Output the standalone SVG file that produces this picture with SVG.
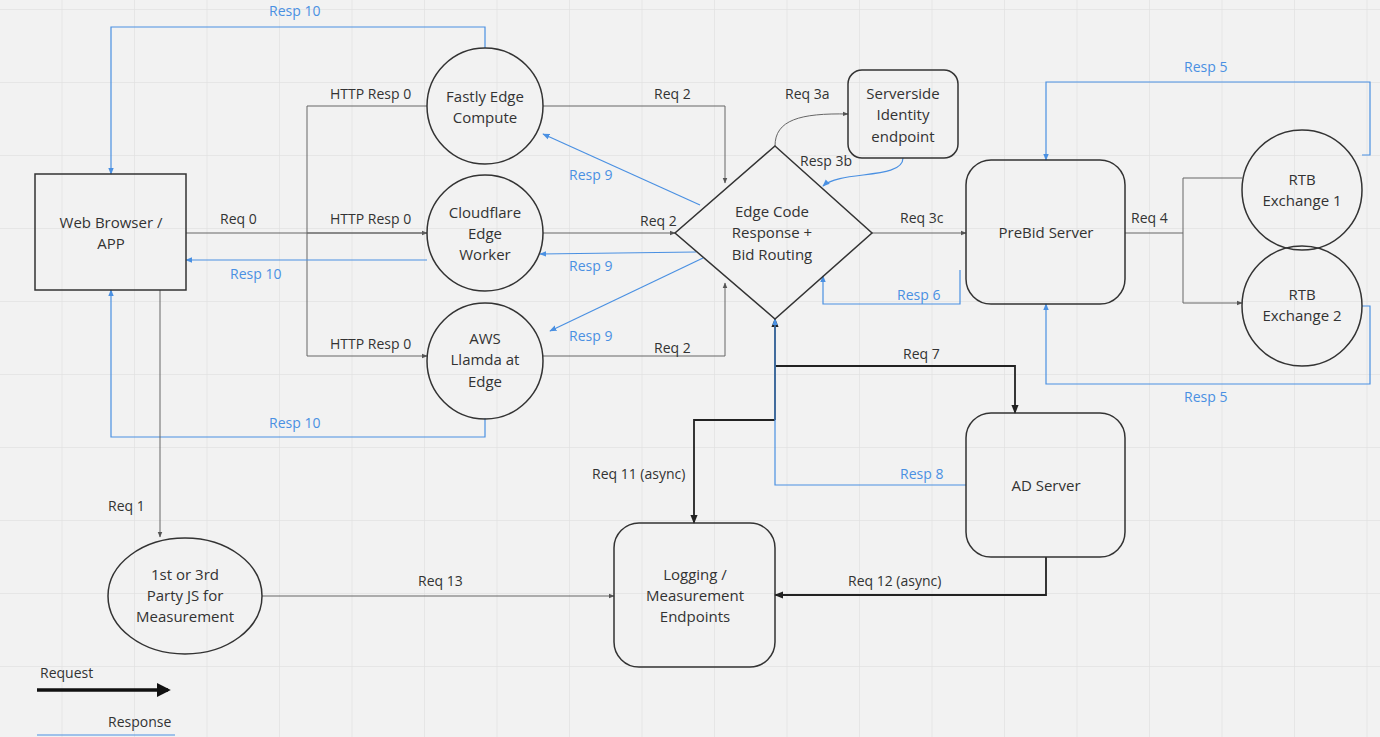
<svg xmlns="http://www.w3.org/2000/svg" width="1380" height="737" viewBox="0 0 1380 737">
<defs>
<pattern id="grid" x="-11" y="9" width="72.5" height="73" patternUnits="userSpaceOnUse"><path d="M0 0H72.5M0 0V73" fill="none" stroke="#e2e2e2" stroke-width="1.5"/></pattern>
<marker id="ag" viewBox="0 0 10 10" refX="9" refY="5" markerWidth="6" markerHeight="6" orient="auto"><path d="M0 1L10 5L0 9z" fill="#555"/></marker>
<marker id="ab" viewBox="0 0 10 10" refX="9" refY="5" markerWidth="6" markerHeight="6" orient="auto"><path d="M0 1L10 5L0 9z" fill="#4a90e2"/></marker>
<marker id="ak" viewBox="0 0 10 10" refX="9" refY="5" markerWidth="5" markerHeight="5" orient="auto"><path d="M0 1L10 5L0 9z" fill="#222"/></marker>
<marker id="aL" viewBox="0 0 10 10" refX="8" refY="5" markerWidth="4" markerHeight="4" orient="auto"><path d="M0 0L10 5L0 10z" fill="#111"/></marker>
</defs>
<style>
text{font-family:"Open Sans","Noto Sans",sans-serif;font-size:14px;fill:#333}
.n{fill:none;stroke:#333;stroke-width:1.5}
.c{text-anchor:middle;font-size:15px}
.b{fill:#4a90e2}
.g{fill:none;stroke:#666;stroke-width:1;marker-end:url(#ag)}
.bl{fill:none;stroke:#4a90e2;stroke-width:1.2;marker-end:url(#ab)}
.k{fill:none;stroke:#222;stroke-width:1.8;marker-end:url(#ak)}
</style>
<rect width="1380" height="737" fill="#f2f2f2"/>
<rect width="1380" height="737" fill="url(#grid)"/>
<g id="connectors">
<path class="g" d="M186 233H427"/>
<path class="g" d="M307 106V356M307 106H427M307 233H427M307 356H427"/>
<path class="bl" d="M485 48V27H111V174"/>
<path class="bl" d="M427 260H186"/>
<path class="bl" d="M485 418V437H111V290"/>
<path class="g" d="M543 106H725V183"/>
<path class="g" d="M543 233H675"/>
<path class="g" d="M543 356H725V283"/>
<path class="bl" d="M700 205L543 134"/>
<path class="bl" d="M696 252L540 254"/>
<path class="bl" d="M703 258L550 331"/>
<path class="g" d="M775 146C775 120 800 113 848 114"/>
<path class="bl" d="M903 158C903 180 840 170 823 186"/>
<path class="g" d="M872 233H966"/>
<path class="bl" d="M960 270V304H823V276"/>
<path class="g" d="M1125 233H1183M1183 178V303M1183 178H1242M1183 303H1242"/>
<path class="bl" d="M1362 155H1370V82H1046V160"/>
<path class="bl" d="M1362 306H1370V384H1046V304"/>
<path class="k" d="M775 420V319"/>
<path class="k" d="M775 366H1015V413"/>
<path class="k" d="M775 420H694V523"/>
<path class="bl" d="M966 485H775V319"/>
<path class="k" d="M1046 557V595H775"/>
<path class="g" d="M262 596H614"/>
<path class="g" d="M160 290V537"/>
<path d="M37 690H168" stroke="#111" stroke-width="3.5" marker-end="url(#aL)"/>
<path d="M37 735H175" stroke="#4a90e2" stroke-width="1.2"/>
</g>
<g id="labels">
<text x="269" y="16" class="b">Resp 10</text>
<text x="330" y="99">HTTP Resp 0</text>
<text x="330" y="224">HTTP Resp 0</text>
<text x="330" y="349">HTTP Resp 0</text>
<text x="220" y="224">Req 0</text>
<text x="230" y="279" class="b">Resp 10</text>
<text x="269" y="428" class="b">Resp 10</text>
<text x="654" y="99">Req 2</text>
<text x="640" y="226">Req 2</text>
<text x="654" y="353">Req 2</text>
<text x="569" y="180" class="b">Resp 9</text>
<text x="569" y="271" class="b">Resp 9</text>
<text x="569" y="341" class="b">Resp 9</text>
<text x="785" y="99">Req 3a</text>
<text x="800" y="166">Resp 3b</text>
<text x="900" y="223">Req 3c</text>
<text x="897" y="300" class="b">Resp 6</text>
<text x="1131" y="223">Req 4</text>
<text x="1184" y="72" class="b">Resp 5</text>
<text x="1184" y="402" class="b">Resp 5</text>
<text x="903" y="359">Req 7</text>
<text x="900" y="479" class="b">Resp 8</text>
<text x="592" y="479">Req 11 (async)</text>
<text x="848" y="586">Req 12 (async)</text>
<text x="418" y="586">Req 13</text>
<text x="108" y="511">Req 1</text>
<text x="40" y="678">Request</text>
<text x="108" y="727">Response</text>
</g>
<g id="browser"><rect class="n" x="35" y="174" width="151" height="116"/><text class="c" x="111" y="228">Web Browser /</text><text class="c" x="111" y="249">APP</text></g>
<g id="fastly"><circle class="n" cx="485" cy="106" r="58"/><text class="c" x="485" y="102">Fastly Edge</text><text class="c" x="485" y="123">Compute</text></g>
<g id="cloudflare"><circle class="n" cx="485" cy="233" r="58"/><text class="c" x="485" y="218">Cloudflare</text><text class="c" x="485" y="239">Edge</text><text class="c" x="485" y="260">Worker</text></g>
<g id="aws"><circle class="n" cx="485" cy="361" r="58"/><text class="c" x="485" y="344">AWS</text><text class="c" x="485" y="365">Llamda at</text><text class="c" x="485" y="387">Edge</text></g>
<g id="serverside"><rect class="n" x="848" y="70" width="110" height="88" rx="14"/><text class="c" x="903" y="99">Serverside</text><text class="c" x="903" y="120">Identity</text><text class="c" x="903" y="142">endpoint</text></g>
<g id="edge"><path class="n" d="M775 146L872 233L775 319L675 233Z"/><text class="c" x="772" y="217">Edge Code</text><text class="c" x="772" y="238">Response +</text><text class="c" x="772" y="260">Bid Routing</text></g>
<g id="prebid"><rect class="n" x="966" y="160" width="159" height="144" rx="25"/><text class="c" x="1046" y="238">PreBid Server</text></g>
<g id="rtb1"><circle class="n" cx="1302" cy="190" r="60"/><text class="c" x="1302" y="185">RTB</text><text class="c" x="1302" y="196" dy="10">Exchange 1</text></g>
<g id="rtb2"><circle class="n" cx="1302" cy="306" r="60"/><text class="c" x="1302" y="300">RTB</text><text class="c" x="1302" y="321">Exchange 2</text></g>
<g id="adserver"><rect class="n" x="966" y="413" width="159" height="144" rx="25"/><text class="c" x="1046" y="491">AD Server</text></g>
<g id="logging"><rect class="n" x="614" y="523" width="161" height="144" rx="25"/><text class="c" x="695" y="580">Logging /</text><text class="c" x="695" y="601">Measurement</text><text class="c" x="695" y="622">Endpoints</text></g>
<g id="js"><ellipse class="n" cx="185" cy="596" rx="77" ry="58"/><text class="c" x="185" y="580">1st or 3rd</text><text class="c" x="185" y="601">Party JS for</text><text class="c" x="185" y="622">Measurement</text></g>
</svg>
